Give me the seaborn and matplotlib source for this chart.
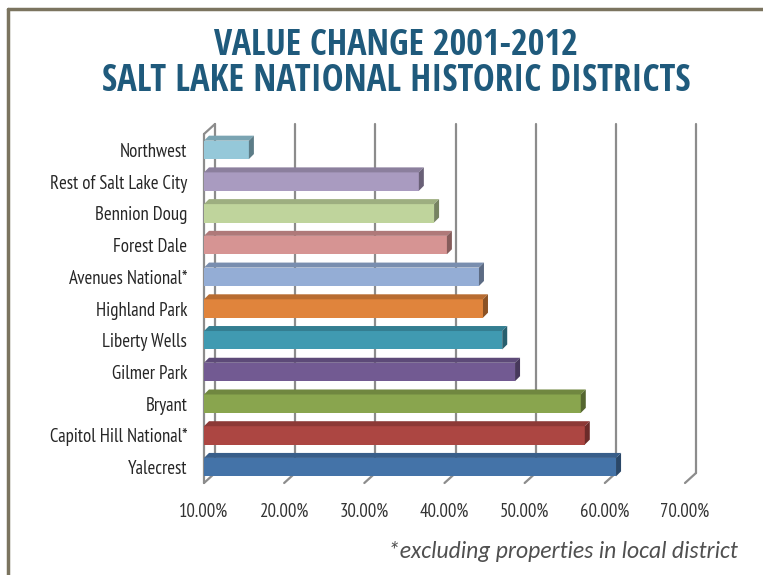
import matplotlib
matplotlib.use("Agg")
import matplotlib.pyplot as plt
import matplotlib.colors as mcolors
import numpy as np
import pandas as pd
import seaborn as sns
from matplotlib.patches import Polygon
from matplotlib.lines import Line2D

# ---------------------------------------------------------------------------
# DATA
# ---------------------------------------------------------------------------
districts = [
    "Northwest", "Rest of Salt Lake City", "Bennion Doug", "Forest Dale",
    "Avenues National*", "Highland Park", "Liberty Wells", "Gilmer Park",
    "Bryant", "Capitol Hill National*", "Yalecrest",
]
value_change = [15.6, 36.8, 38.7, 40.3, 44.3, 44.8, 47.2, 48.8, 57.0, 57.5, 61.4]
bar_colors = [
    "#95C8D9", "#A99BC0", "#BFD49C", "#D69493", "#94ADD5", "#E0843C",
    "#409AB1", "#725A92", "#89A54E", "#AC4642", "#4473A8",
]
x_ticks = [10, 20, 30, 40, 50, 60, 70]

# ---------------------------------------------------------------------------
# STYLE
# ---------------------------------------------------------------------------
sns.set_style("white")
plt.rcParams["font.family"] = ["PT Sans Narrow", "DejaVu Sans"]

W, H = 763, 575
fig = plt.figure(figsize=(W / 100, H / 100), dpi=100)


def px_box(left, top, right, bottom):
    return [left / W, 1 - bottom / H, (right - left) / W, (bottom - top) / H]


ax = fig.add_axes(px_box(204, 134, 685, 483))

df = pd.DataFrame({"district": districts, "change": value_change})
sns.barplot(data=df, x="change", y="district", hue="district", palette=bar_colors,
            legend=False, width=0.58, saturation=1, ax=ax, zorder=3,
            edgecolor="none", linewidth=0)

ax.set_xlim(x_ticks[0], x_ticks[-1])
n = len(districts)
ax.set_ylim(n - 0.5, -0.5)

# pixel -> data conversions for the fake 3D depth
ppx = 481 / (x_ticks[-1] - x_ticks[0])
ppy = 349 / n
gx, gy = 11 / ppx, 10 / ppy     # wall depth
bx, by = 5 / ppx, 5 / ppy       # bar depth

# 3D faces on the bars
x_left = ax.get_xlim()[0]
for patch, col in zip(ax.patches, bar_colors):
    y0 = patch.get_y()
    y1 = y0 + patch.get_height()
    x1 = patch.get_x() + patch.get_width()
    top = np.array(mcolors.to_rgb(col)) * 0.82
    side = np.array(mcolors.to_rgb(col)) * 0.62
    ax.add_patch(Polygon([(x_left, y0), (x1, y0), (x1 + bx, y0 - by), (x_left + bx, y0 - by)],
                         closed=True, facecolor=top, edgecolor="none", zorder=3, clip_on=False))
    ax.add_patch(Polygon([(x1, y0), (x1 + bx, y0 - by), (x1 + bx, y1 - by), (x1, y1)],
                         closed=True, facecolor=side, edgecolor="none", zorder=3, clip_on=False))

# back-wall gridlines and slanted floor ticks
y_bot, y_top = n - 0.5, -0.5
grid_col = "#8C8C8C"
for t in x_ticks:
    ax.plot([t + gx, t + gx], [y_bot - gy, y_top - gy], color=grid_col, lw=1.6,
            zorder=0.5, clip_on=False)
    ax.plot([t, t + gx], [y_bot, y_bot - gy], color=grid_col, lw=1.6,
            zorder=0.5, clip_on=False)
# left wall
ax.plot([x_left, x_left], [y_bot, y_top], color=grid_col, lw=1.6, zorder=0.5, clip_on=False)
ax.plot([x_left, x_left + gx], [y_top, y_top - gy], color=grid_col, lw=1.6,
        zorder=0.5, clip_on=False)

ax.set_xticks(x_ticks)
ax.set_xticklabels([f"{t:.2f}%" for t in x_ticks])
ax.tick_params(axis="x", length=0, pad=14, labelsize=13.5, labelcolor="#333333")
ax.tick_params(axis="y", length=0, pad=12, labelsize=13.5, labelcolor="#262626")
ax.set_xlabel("")
ax.set_ylabel("")
sns.despine(ax=ax, left=True, bottom=True)
ax.grid(False)

# titles
title_col = "#1F5A7C"
title_font = ["Open Sans Condensed", "DejaVu Sans"]
fig.text(396 / W, 1 - 46 / H, "VALUE CHANGE 2001-2012", ha="center", va="center",
         fontsize=26, fontweight="bold", color=title_col, family=title_font)
fig.text(396 / W, 1 - 81 / H, "SALT LAKE NATIONAL HISTORIC DISTRICTS", ha="center",
         va="center", fontsize=26.5, fontweight="bold", color=title_col, family=title_font)

# footnote
fig.text(738 / W, 1 - 551 / H, "*excluding properties in local district", ha="right",
         va="center", fontsize=17, style="italic",
         family=["Carlito", "DejaVu Sans"], color="#505050")

# frame (top and left edges)
frame_col = "#7B745F"
fig.add_artist(Line2D([8 / W, 1], [1 - 9 / H, 1 - 9 / H], transform=fig.transFigure,
                      color=frame_col, lw=2.5))
fig.add_artist(Line2D([8 / W, 8 / W], [0, 1 - 9 / H], transform=fig.transFigure,
                      color=frame_col, lw=2.5))

fig.savefig("out.png", dpi=100)
